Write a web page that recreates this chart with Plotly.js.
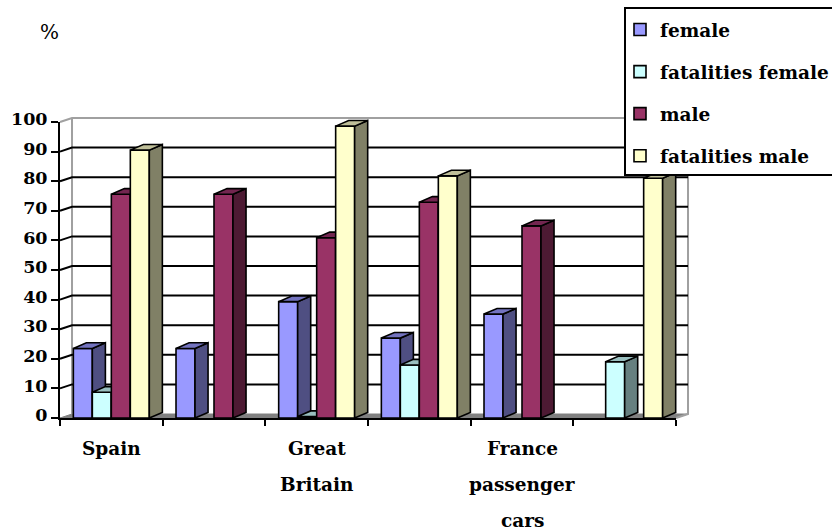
<!DOCTYPE html>
<html><head><meta charset="utf-8">
<script src="https://cdn.plot.ly/plotly-3.0.1.min.js"></script>
<style>html,body{margin:0;padding:0;background:#fff}#c{width:832px;height:532px}</style>
</head><body><div id="c"></div>
<script>
// Data
const groupCount = 6;
const labelLines = [[0.5,["Spain"]],[2.5,["Great","Britain"]],[4.5,["France","passenger","cars"]]];
const seriesNames = ["female","fatalities female","male","fatalities male"];
const female          = [23.5, 23.5, 39.3, 27.0, 35.1, null];
const fatalitiesFemale= [ 8.7, null,  0.5, 17.9, null, 19.0];
const male            = [75.6, 75.6, 60.9, 72.9, 64.9, null];
const fatalitiesMale  = [90.5, null, 98.6, 81.8, null, 81.0];
const yTicks = [0,10,20,30,40,50,60,70,80,90,100];

// Styling
const FONT = '"DejaVu Serif", serif';
const frontColors = ["#9999FF","#CCFFFF","#993366","#FFFFCC"];
const sideColors  = ["#4F4F82","#668080","#4D1A33","#808066"];
const topColors   = ["#7373BF","#99BFBF","#732650","#BFBF99"];
const allSeries = [female,fatalitiesFemale,male,fatalitiesMale];
const slot = 0.185, gap = 0.13, barDx = 0.127, barDy = 1.9, wallDx = 0.117, wallDy = 1.35;
const FL=60,FR=676,FT=122,FB=418;               // front plane in pixels
const PL=58,PR=690,PT=116,PB=420;               // drawing area in pixels
const pxX=(FR-FL)/groupCount, pxY=(FB-FT)/100;
const xRange=[-(FL-PL)/pxX, groupCount+(PR-FR)/pxX], yRange=[-(PB-FB)/pxY, 100+(FT-PT)/pxY];
const W=PR-PL,H=PB-PT;
const paperX=p=>(p-PL)/W, paperY=p=>(PB-p)/H;

const traces = [];
const ids = ["","2","3","4","5"];
const base={type:"scatter",mode:"lines",showlegend:false,hoverinfo:"skip"};
// back wall and floor
const gridX=[],gridY=[];
yTicks.forEach(v=>{ if(v===100||v===0) return; gridX.push(0,wallDx,groupCount+wallDx,null); gridY.push(v,v+wallDy,v+wallDy,null); });
traces.push({...base,x:[0,wallDx,groupCount+wallDx,groupCount,0],y:[0,wallDy,wallDy,0,0],fill:"toself",fillcolor:"#808080",line:{color:"#808080",width:1}});
traces.push({...base,x:[wallDx,wallDx,null,0,wallDx,groupCount+wallDx,groupCount+wallDx,groupCount],y:[100+wallDy,wallDy,null,100,100+wallDy,100+wallDy,wallDy,0],line:{color:"#a0a0a0",width:2}});
traces.push({...base,x:gridX,y:gridY,line:{color:"#000",width:2}});

allSeries.forEach((vals,s)=>{
  const ax = ids[s+1];
  const sx=[],sy=[],tx=[],ty=[];
  vals.forEach((v,g)=>{
    if(v===null) return;
    const x0=g+gap+s*slot, x1=x0+slot;
    sx.push(x1,x1+barDx,x1+barDx,x1,x1,null); sy.push(0,barDy,v+barDy,v,0,null);
    tx.push(x0,x0+barDx,x1+barDx,x1,x0,null); ty.push(v,v+barDy,v+barDy,v,v,null);
  });
  traces.push({type:"bar",name:seriesNames[s],x:vals.map((_,g)=>g+0.5),y:vals,width:slot,offset:gap-0.5+s*slot,
    marker:{color:frontColors[s],line:{color:"#000",width:1.6}},xaxis:"x"+ax,yaxis:"y"+ax,hoverinfo:"x+y",legendgroup:"g"+s});
  traces.push({...base,x:sx,y:sy,fill:"toself",fillcolor:sideColors[s],line:{color:"#000",width:1.6},xaxis:"x"+ax,yaxis:"y"+ax});
  traces.push({...base,x:tx,y:ty,fill:"toself",fillcolor:topColors[s],line:{color:"#000",width:1.6},xaxis:"x"+ax,yaxis:"y"+ax});
});
// axis carrier
traces.push({...base,x:[],y:[],xaxis:"x6",yaxis:"y6"});

const annotations=[];
annotations.push({text:"%",xref:"paper",yref:"paper",x:paperX(49.5),y:paperY(32),showarrow:false,font:{family:FONT,size:20,color:"#000"},xanchor:"center",yanchor:"middle"});
const rowPx=[448,484.5,520.5];
labelLines.forEach(([c,lines])=>lines.forEach((t,i)=>annotations.push({
  text:"<b>"+t+"</b>",xref:"x",yref:"paper",x:c,y:paperY(rowPx[i]),showarrow:false,font:{family:FONT,size:18.5,color:"#000"},xanchor:"center",yanchor:"middle"})));

const layout={
  width:832,height:532,paper_bgcolor:"#fff",plot_bgcolor:"rgba(0,0,0,0)",
  margin:{l:PL,r:832-PR,t:PT,b:532-PB,pad:0,autoexpand:false},
  barmode:"overlay",showlegend:true,
  xaxis:{range:xRange,visible:false,domain:[0,1]},
  yaxis:{range:yRange,visible:false,domain:[0,1]},
  xaxis6:{anchor:"y6",domain:[paperX(FL),paperX(FR)],range:[0,groupCount],tickmode:"array",tickvals:Array.from({length:groupCount+1},(_,i)=>i),showticklabels:false,ticks:"outside",ticklen:6,tickwidth:1.6,tickcolor:"#000",showline:true,linecolor:"#000",linewidth:2,showgrid:false,zeroline:false},
  yaxis6:{anchor:"x6",domain:[paperY(FB),paperY(FT)],range:[0,100],tickmode:"array",tickvals:yTicks,ticks:"outside",ticklen:7,tickwidth:1.6,tickcolor:"#000",showline:true,linecolor:"#000",linewidth:2,showgrid:false,zeroline:false,ticklabelshift:-3,tickfont:{family:FONT,size:17.5,color:"#000",weight:"bold"}},
  legend:{x:paperX(620),xanchor:"left",y:paperY(11),yanchor:"top",bgcolor:"rgba(0,0,0,0)",borderwidth:0,tracegroupgap:15,traceorder:"grouped",font:{family:FONT,size:18.5,color:"#000",weight:"bold"},itemclick:false,itemdoubleclick:false},
  shapes:[{type:"rect",xref:"paper",yref:"paper",layer:"above",x0:paperX(625),x1:paperX(845),y0:paperY(175),y1:paperY(8),fillcolor:"#fff",line:{color:"#000",width:2}}],
  annotations
};
["2","3","4","5"].forEach(a=>{
  layout["xaxis"+a]={range:xRange,overlaying:"x",visible:false,anchor:"y"+a};
  layout["yaxis"+a]={range:yRange,overlaying:"y",visible:false,anchor:"x"+a};
});
Plotly.newPlot("c",traces,layout,{displayModeBar:false});
</script></body></html>
